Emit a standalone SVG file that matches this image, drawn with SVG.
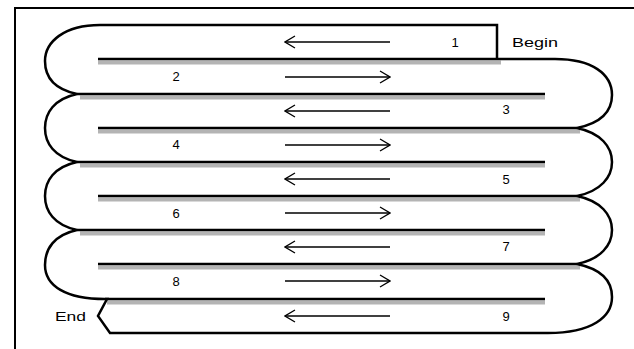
<svg xmlns="http://www.w3.org/2000/svg" width="634" height="349" viewBox="0 0 634 349">
<style>
.bg{fill:#ffffff}
.frame{fill:none;stroke:#000;stroke-width:2}
.outline{fill:none;stroke:#000;stroke-width:2.5;stroke-linejoin:miter}
.bar{stroke:#000;stroke-width:2.5}
.shadow{fill:#b4b4b4}
.arrow{fill:none;stroke:#000;stroke-width:1.3}
.lbl{font-family:"Liberation Sans",Arial,sans-serif;font-size:13px;fill:#000;text-anchor:middle}
.word{font-family:"Liberation Sans",Arial,sans-serif;font-size:12.5px;fill:#000}
</style>
<defs>
<marker id="ah" viewBox="0 0 12 14" refX="11" refY="7" markerWidth="12" markerHeight="14" markerUnits="userSpaceOnUse" orient="auto">
<polyline points="1,1 11,7 1,13" fill="none" stroke="#000" stroke-width="1.3"/>
</marker>
</defs>
<rect class="bg" x="0" y="0" width="634" height="349"/>
<path class="frame" d="M15,349 L15,8 L634,8"/>
<g id="shadows">
<rect class="shadow" x="98" y="60.5" width="403" height="4"/>
<rect class="shadow" x="80" y="95.5" width="465" height="4"/>
<rect class="shadow" x="98" y="129.5" width="482" height="4"/>
<rect class="shadow" x="80" y="163.5" width="465" height="4"/>
<rect class="shadow" x="98" y="197.5" width="482" height="4"/>
<rect class="shadow" x="80" y="231.5" width="465" height="4"/>
<rect class="shadow" x="98" y="265.5" width="482" height="4"/>
<rect class="shadow" x="107" y="300.5" width="438" height="4"/>
</g>
<g id="snake">
<path class="outline" d="M497,59 L497,25 L100,25 C64,25 45,42 45,61 C45,80 58,90 77,94 C54,99 45,113 45,128 C45,143 54,157 77,162 C54,167 45,181 45,196 C45,211 54,225 77,230 C54,235 45,249 45,265 C45,286 66,299 105,299 L107,299 L98,316 L110,333 L548,333 C592,333 612,317 612,297 C612,281 601,269 577,264 C601,259 612,245 612,230 C612,215 601,201 577,196 C601,191 612,177 612,162 C612,147 601,133 577,128 C601,123 612,111 612,95 C612,74 592,59 555,59 L497,59"/>
<line class="bar" x1="98" y1="59" x2="497" y2="59"/>
<line class="bar" x1="77" y1="94" x2="545" y2="94"/>
<line class="bar" x1="98" y1="128" x2="577" y2="128"/>
<line class="bar" x1="77" y1="162" x2="545" y2="162"/>
<line class="bar" x1="98" y1="196" x2="577" y2="196"/>
<line class="bar" x1="77" y1="230" x2="545" y2="230"/>
<line class="bar" x1="98" y1="264" x2="577" y2="264"/>
<line class="bar" x1="105" y1="299" x2="545" y2="299"/>
</g>
<g id="connectors">
<line class="arrow" x1="390" y1="42" x2="285" y2="42" marker-end="url(#ah)"/>
<line class="arrow" x1="285" y1="77" x2="390" y2="77" marker-end="url(#ah)"/>
<line class="arrow" x1="390" y1="111" x2="285" y2="111" marker-end="url(#ah)"/>
<line class="arrow" x1="285" y1="145" x2="390" y2="145" marker-end="url(#ah)"/>
<line class="arrow" x1="390" y1="179" x2="285" y2="179" marker-end="url(#ah)"/>
<line class="arrow" x1="285" y1="213" x2="390" y2="213" marker-end="url(#ah)"/>
<line class="arrow" x1="390" y1="247" x2="285" y2="247" marker-end="url(#ah)"/>
<line class="arrow" x1="285" y1="281" x2="390" y2="281" marker-end="url(#ah)"/>
<line class="arrow" x1="390" y1="316" x2="285" y2="316" marker-end="url(#ah)"/>
</g>
<g id="labels">
<text class="lbl" x="455" y="47">1</text>
<text class="lbl" x="176" y="81">2</text>
<text class="lbl" x="506" y="114">3</text>
<text class="lbl" x="176" y="149">4</text>
<text class="lbl" x="506" y="184">5</text>
<text class="lbl" x="176" y="218">6</text>
<text class="lbl" x="506" y="251">7</text>
<text class="lbl" x="176" y="286">8</text>
<text class="lbl" x="506" y="321">9</text>
<text id="begin" class="word" x="512" y="47" textLength="46" lengthAdjust="spacingAndGlyphs">Begin</text>
<text id="end" class="word" x="55" y="321" textLength="31" lengthAdjust="spacingAndGlyphs">End</text>
</g>
</svg>
